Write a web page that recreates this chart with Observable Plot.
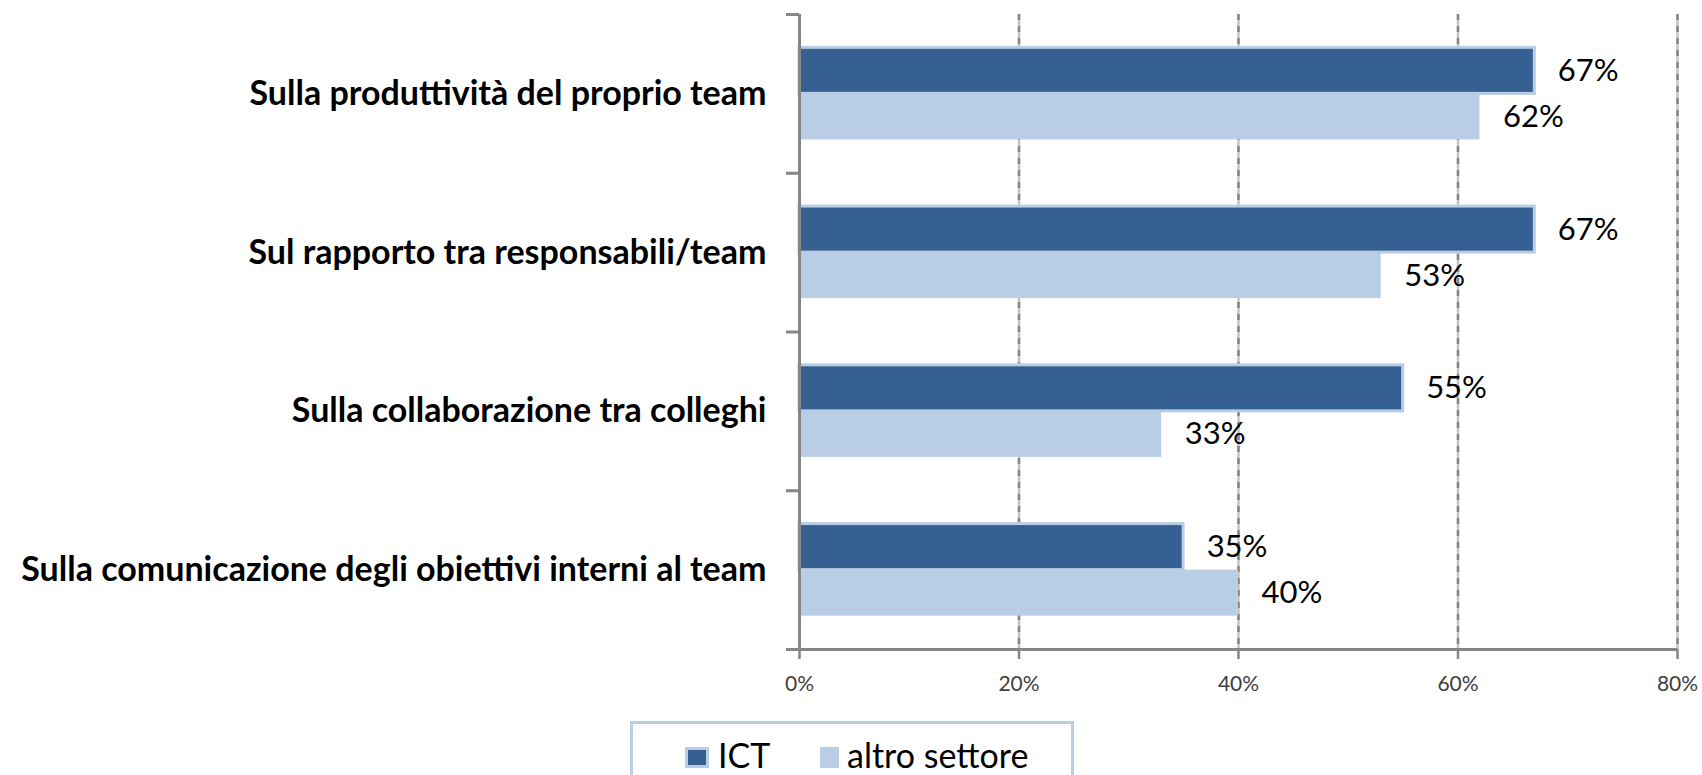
<!DOCTYPE html>
<html><head><meta charset="utf-8">
<script src="https://cdn.jsdelivr.net/npm/d3@7"></script>
<script src="https://cdn.jsdelivr.net/npm/@observablehq/plot@0.6"></script>
<style>
body{margin:0;background:#fff;}
#chart{position:relative;width:1702px;height:775px;overflow:hidden;font-family:Lato,sans-serif;}
#chart svg{position:absolute;left:0;top:0;}
#legend{position:absolute;left:630px;top:721px;width:444px;height:100px;border:3px solid #b9cde5;box-sizing:border-box;}
.lg-sw{position:absolute;box-sizing:border-box;}
.lg-tx{position:absolute;font-size:34px;line-height:34px;color:#000;white-space:nowrap;}
</style></head>
<body><div id="chart"></div>
<script>
const categories = [
  "Sulla produttività del proprio team",
  "Sul rapporto tra responsabili/team",
  "Sulla collaborazione tra colleghi",
  "Sulla comunicazione degli obiettivi interni al team"
];
const ictValues = [67, 67, 55, 35];
const altroValues = [62, 53, 33, 40];
const seriesNames = ["ICT", "altro settore"];
const seriesColors = ["#376092", "#b9cde5"];
const xTicks = [0, 20, 40, 60, 80];

const rows = categories.map((c, i) => ({category: c, i, ict: ictValues[i], altro: altroValues[i]}));
const gray = "#868686";

const plot = Plot.plot({
  width: 1702, height: 710,
  marginLeft: 799, marginRight: 25, marginTop: 14, marginBottom: 61,
  style: {fontFamily: "Lato, sans-serif", background: "transparent", color: "#000"},
  x: {domain: [0, 80]},
  y: {domain: [0, categories.length], reverse: true},
  marks: [
    Plot.ruleX(xTicks.slice(1), {stroke: "#c4c4c4", strokeWidth: 2.5}),
    Plot.ruleX(xTicks.slice(1), {stroke: gray, strokeWidth: 2.5, strokeDasharray: "6,6"}),
    Plot.rect(rows, {x1: 0, x2: "ict", y1: d => d.i + 0.21, y2: d => d.i + 0.5, fill: seriesColors[0], stroke: seriesColors[1], strokeWidth: 3}),
    Plot.rect(rows, {x1: 0, x2: "altro", y1: d => d.i + 0.5, y2: d => d.i + 0.79, fill: seriesColors[1]}),
    Plot.text(rows, {x: "ict", y: d => d.i + 0.355, text: d => d.ict + "%", textAnchor: "start", dx: 23, fontSize: 31, fill: "#000"}),
    Plot.text(rows, {x: "altro", y: d => d.i + 0.645, text: d => d.altro + "%", textAnchor: "start", dx: 23, fontSize: 31, fill: "#000"}),
    Plot.text(rows, {x: 0, y: d => d.i + 0.5, text: "category", textAnchor: "end", dx: -33, fontSize: 34, fontWeight: "bold", fill: "#000"}),
    Plot.ruleX([0], {stroke: gray, strokeWidth: 3}),
    Plot.ruleY([categories.length], {stroke: gray, strokeWidth: 3}),
    Plot.axisY({ticks: d3.range(categories.length + 1), tickSize: 13, tickFormat: () => "", stroke: gray, strokeWidth: 3, label: null}),
    Plot.axisX({ticks: xTicks, tickFormat: d => d + "%", tickSize: 10, tickPadding: 17, fontSize: 21, stroke: gray, strokeWidth: 2.5, fill: "#404040", label: null})
  ]
});

const chart = document.getElementById("chart");
chart.appendChild(plot);

const legend = document.createElement("div");
legend.id = "legend";
chart.appendChild(legend);
const items = [
  {sw: 685 - 630, swW: 24, txt: 718 - 630},
  {sw: 820 - 630, swW: 19, txt: 847 - 630}
];
seriesNames.forEach((name, k) => {
  const sw = document.createElement("div");
  sw.className = "lg-sw";
  sw.style.left = (items[k].sw - 3) + "px";
  sw.style.top = "23px";
  sw.style.width = items[k].swW + "px";
  sw.style.height = "21px";
  sw.style.background = seriesColors[k];
  if (k === 0) sw.style.border = "3px solid " + seriesColors[1];
  legend.appendChild(sw);
  const tx = document.createElement("div");
  tx.className = "lg-tx";
  tx.style.left = (items[k].txt - 3) + "px";
  tx.style.top = "14px";
  tx.textContent = name;
  legend.appendChild(tx);
});
</script>
</body></html>
